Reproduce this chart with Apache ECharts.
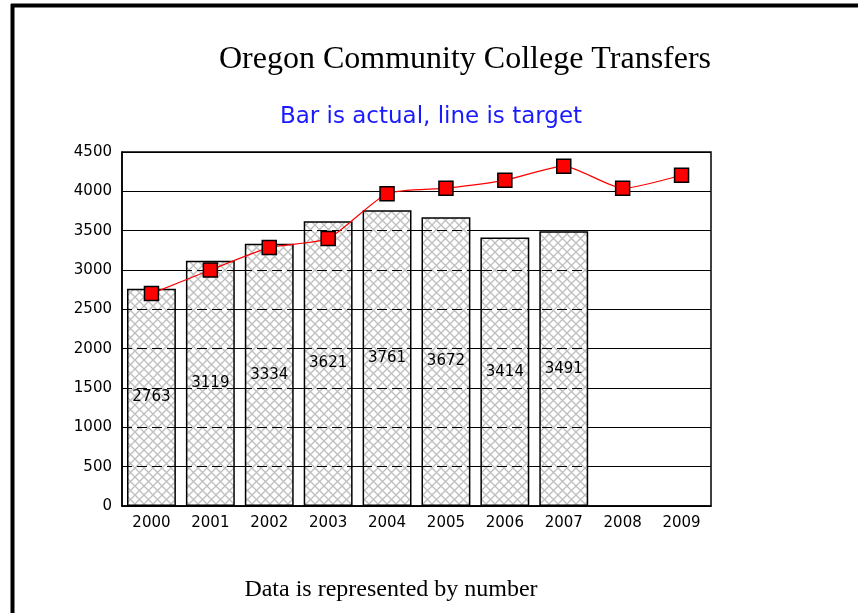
<!DOCTYPE html>
<html>
<head>
<meta charset="utf-8">
<script src="https://cdn.jsdelivr.net/npm/echarts@6/dist/echarts.min.js"></script>
<style>
  html, body { margin: 0; padding: 0; background: #fff; }
  #chartBox { width: 858px; height: 613px; }
</style>
</head>
<body>
<div id="chartBox"></div>
<script>
// values
let years = ['2000', '2001', '2002', '2003', '2004', '2005', '2006', '2007', '2008', '2009']
let actual = [2763, 3119, 3334, 3621, 3761, 3672, 3414, 3491, null, null]
let target = [2700, 3000, 3285, 3400, 3970, 4040, 4140, 4320, 4040, 4205]
let yTicks = [500, 1000, 1500, 2000, 2500, 3000, 3500, 4000]

// crosshatch fill for the bars
function hatch () {
  let c = document.createElement('canvas')
  c.width = 9
  c.height = 9
  let ctx = c.getContext('2d')
  ctx.fillStyle = '#fff'
  ctx.fillRect(0, 0, 9, 9)
  ctx.strokeStyle = '#c0c0c0'
  ctx.lineWidth = 1.4
  ctx.beginPath()
  ctx.moveTo(0, 0); ctx.lineTo(9, 9)
  ctx.moveTo(9, 0); ctx.lineTo(0, 9)
  ctx.stroke()
  return c
}

let myChart = echarts.init(document.getElementById('chartBox'))
let sans = '"DejaVu Sans", Verdana, sans-serif'
let tickFont = { color: '#000', fontSize: 15, fontFamily: sans }

myChart.setOption({
  animation: false,
  backgroundColor: '#fff',
  graphic: [
    { type: 'line', shape: { x1: 12.5, y1: 4, x2: 12.5, y2: 613 }, style: { stroke: '#000', lineWidth: 4 } },
    { type: 'line', shape: { x1: 11, y1: 5.5, x2: 858, y2: 5.5 }, style: { stroke: '#000', lineWidth: 4 } },
    { type: 'text', x: 465, y: 60, style: { text: 'Oregon Community College Transfers', fill: '#000', font: '32px "Liberation Serif", "Times New Roman", serif', textAlign: 'center', textVerticalAlign: 'middle' } },
    { type: 'text', x: 431, y: 117, style: { text: 'Bar is actual, line is target', fill: '#1a1aff', font: '23px ' + sans, textAlign: 'center', textVerticalAlign: 'middle' } },
    { type: 'text', x: 391, y: 590, style: { text: 'Data is represented by number', fill: '#000', font: '24px "Liberation Serif", "Times New Roman", serif', textAlign: 'center', textVerticalAlign: 'middle' } }
  ],
  grid: {
    left: 122,
    right: 147,
    top: 152,
    bottom: 107,
    show: true,
    borderColor: '#000',
    borderWidth: 1.5
  },
  xAxis: {
    type: 'category',
    data: years,
    axisLine: { lineStyle: { color: '#000', width: 1.5 } },
    axisTick: { show: false },
    axisLabel: Object.assign({ margin: 10 }, tickFont)
  },
  yAxis: {
    type: 'value',
    min: 0,
    max: 4500,
    interval: 500,
    axisLine: { show: true, lineStyle: { color: '#000', width: 1.5 } },
    axisTick: { show: false },
    axisLabel: Object.assign({ margin: 10, formatter: function (v) { return String(v) } }, tickFont),
    splitLine: { lineStyle: { color: '#000', width: 1.2 } }
  },
  series: [
    {
      name: 'actual',
      type: 'bar',
      data: actual,
      barCategoryGap: '17%',
      z: 2,
      itemStyle: {
        color: { image: hatch(), repeat: 'repeat' },
        borderColor: '#000',
        borderWidth: 1.5
      },
      label: {
        show: true,
        position: 'inside',
        color: '#000',
        fontSize: 15,
        fontFamily: sans
      },
      markLine: {
        silent: true,
        symbol: 'none',
        label: { show: false },
        lineStyle: { color: '#000', type: [10, 5], width: 1.2 },
        data: yTicks.map(function (v) { return { yAxis: v } })
      }
    },
    {
      name: 'target',
      type: 'line',
      data: target,
      z: 5,
      smooth: 0.2,
      symbol: 'rect',
      symbolSize: 14,
      lineStyle: { color: '#ff0000', width: 1.2 },
      itemStyle: { color: '#ff0000', borderColor: '#000', borderWidth: 1.5 }
    }
  ]
})
</script>
</body>
</html>
